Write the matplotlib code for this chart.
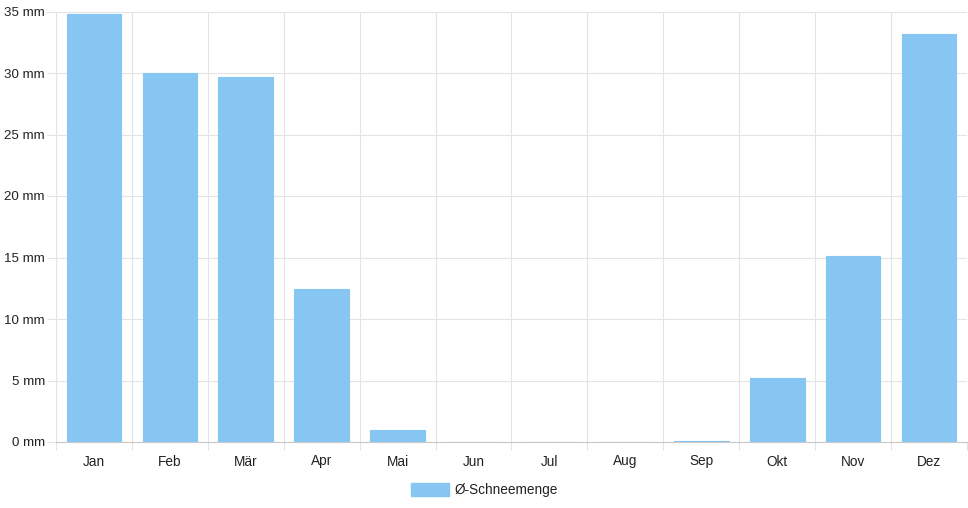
import numpy as np
import matplotlib.pyplot as plt
from matplotlib.patches import Patch

# Monatswerte Schnee (mm)
monate = ['Jan', 'Feb', 'Mär', 'Apr', 'Mai', 'Jun', 'Jul', 'Aug', 'Sep', 'Okt', 'Nov', 'Dez']
schnee = [34.8, 30.0, 29.7, 12.45, 1.0, 0.0, 0.0, 0.0, 0.1, 5.2, 15.1, 33.2]
y_ticks = [0, 5, 10, 15, 20, 25, 30, 35]

farbe = '#87c6f2'
grid_farbe = '#e4e4e4'
plt.rcParams['font.family'] = ['Liberation Sans', 'DejaVu Sans']

fig = plt.figure(figsize=(9.68, 5.08), dpi=100)
ax = fig.add_axes([56 / 968, 1 - 442 / 508, 911 / 968, (442 - 11.5) / 508])

x = np.arange(len(monate))
ax.bar(x, schnee, width=0.72, color=farbe, edgecolor=farbe, linewidth=0.8, zorder=3)

ax.set_xlim(-0.5, len(monate) - 0.5)
ax.set_ylim(0, 35)

# Gitter zwischen den Kategorien
ax.set_xticks(np.arange(-0.5, len(monate)), minor=False)
ax.set_xticklabels([])
ax.set_xticks(x, minor=True)
ax.set_xticklabels(monate, minor=True)
ax.tick_params(axis='x', which='major', length=5.8, color=grid_farbe, width=0.8)
ax.tick_params(axis='x', which='minor', length=0, pad=9, labelsize=9.8, labelcolor='#222222')
ax.grid(axis='x', which='major', color=grid_farbe, linewidth=0.8, zorder=0)

ax.set_yticks(y_ticks)
ax.set_yticklabels([f'{v} mm' for v in y_ticks])
ax.tick_params(axis='y', length=6.5, color=grid_farbe, width=0.8, pad=1.5, labelsize=9.6, labelcolor='#222222')
ax.grid(axis='y', color=grid_farbe, linewidth=0.8, zorder=0)

for s in ['top', 'right']:
    ax.spines[s].set_visible(False)
ax.spines['left'].set_color(grid_farbe)
ax.spines['bottom'].set_color('#c8c8c8')

handle = Patch(facecolor=farbe, edgecolor=farbe, label='Ø-Schneemenge')
fig.legend(handles=[handle], loc='center', bbox_to_anchor=(0.5, 1 - 490 / 508),
           frameon=False, fontsize=9.8, handlelength=2.8, handleheight=1.1,
           handletextpad=0.4, labelcolor='#222222')

fig.savefig('out.png', dpi=100)
